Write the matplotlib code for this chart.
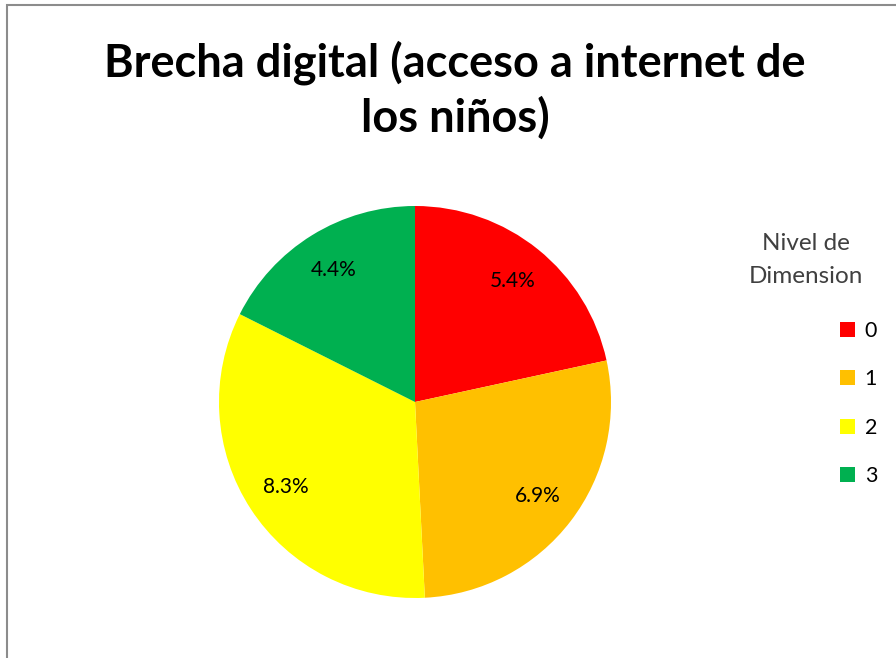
import matplotlib.pyplot as plt
import matplotlib.patches as mpatches

plt.rcParams['font.family'] = ['Lato', 'DejaVu Sans']

niveles = ["0", "1", "2", "3"]
valores = [5.4, 6.9, 8.3, 4.4]
colores = ["#ff0000", "#ffc000", "#ffff00", "#00b050"]
titulo = "Brecha digital (acceso a internet de\nlos niños)"

total = sum(valores)

fig = plt.figure(figsize=(8.96, 6.58), dpi=100)

# chart frame (right and bottom edges fall outside the canvas)
fig.patches.append(mpatches.Rectangle((7 / 896, -0.1), 2.0, (658 - 5) / 658 + 0.1,
                                      transform=fig.transFigure, fill=False,
                                      edgecolor="#8c8c8c", linewidth=1.5))

fig.text(0.508, 1 - 90 / 658, titulo, ha="center", va="center",
         fontsize=32.5, fontweight="bold", linespacing=1.3)

ax = fig.add_axes([219 / 896, 1 - 598 / 658, 392 / 896, 392 / 658])
wedges, _, autotexts = ax.pie(
    valores, colors=colores, startangle=90, counterclock=False,
    autopct=lambda p: f"{p * total / 100:.1f}%", pctdistance=0.79,
    wedgeprops=dict(linewidth=0))
for t in autotexts:
    t.set_fontsize(15)
ax.set_xlim(-1, 1)
ax.set_ylim(-1, 1)
ax.set_aspect("equal")

fig.text(806 / 896, 1 - 260 / 658, "Nivel de\nDimension", ha="center", va="center",
         fontsize=17.5, color="#404040", linespacing=1.65)

handles = [mpatches.Patch(facecolor=c, edgecolor="none") for c in colores]
fig.legend(handles, niveles, loc="upper left", bbox_to_anchor=(840 / 896, 1 - 321 / 658),
           frameon=False, fontsize=15.5, handlelength=0.7, handleheight=0.7,
           handletextpad=0.45, labelspacing=1.32, borderpad=0, borderaxespad=0)

fig.savefig("out.png", dpi=100)
